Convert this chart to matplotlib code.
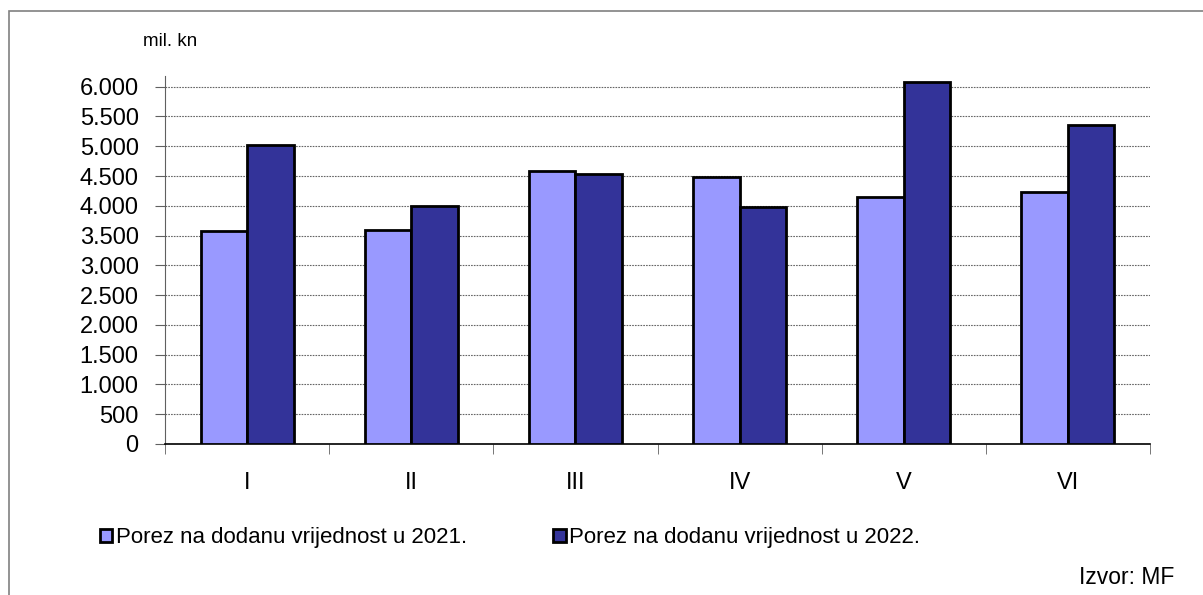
import matplotlib.pyplot as plt
from matplotlib.patches import Rectangle
from matplotlib.ticker import FuncFormatter

plt.rcParams['font.family'] = ['Liberation Sans', 'DejaVu Sans']

# data (mil. kn)
months = ["I", "II", "III", "IV", "V", "VI"]
pdv_2021 = [3570, 3586, 4580, 4480, 4150, 4228]
pdv_2022 = [5016, 3994, 4542, 3983, 6084, 5363]

label_2021 = "Porez na dodanu vrijednost u 2021."
label_2022 = "Porez na dodanu vrijednost u 2022."
color_2021 = "#9999FF"
color_2022 = "#333399"

W, H = 1203, 595
fig = plt.figure(figsize=(W / 100, H / 100), dpi=100)

# outer frame
fig.patches.append(Rectangle((9 / W, -0.1), 2, (H - 11) / H + 0.1,
                             transform=fig.transFigure, fill=False,
                             edgecolor="#808080", linewidth=1.2))

ax = fig.add_axes([165 / W, (H - 444) / H, (1150 - 165) / W, (444 - 76) / H])

x = list(range(len(months)))
w = 0.283
ax.bar([i - w / 2 for i in x], pdv_2021, width=w, color=color_2021,
       edgecolor="black", linewidth=2, label=label_2021, zorder=3)
ax.bar([i + w / 2 for i in x], pdv_2022, width=w, color=color_2022,
       edgecolor="black", linewidth=2, label=label_2022, zorder=3)

ax.set_xlim(-0.5, len(months) - 0.5)
ax.set_ylim(0, 6180)
ax.set_yticks(list(range(0, 6001, 500)))
ax.yaxis.set_major_formatter(FuncFormatter(lambda v, p: f"{int(v):,}".replace(",", ".")))

ax.set_xticks(x)
ax.set_xticklabels(months)
ax.set_xticks([i - 0.5 for i in range(len(months) + 1)], minor=True)
ax.tick_params(axis="x", which="major", length=0, pad=20, labelsize=17)
ax.tick_params(axis="x", which="minor", length=7, color="#606060", direction="out")
ax.tick_params(axis="y", length=7, color="#606060", pad=12, labelsize=17)

for s in ["top", "right"]:
    ax.spines[s].set_visible(False)
ax.spines["left"].set_color("#606060")
ax.spines["bottom"].set_color("black")
ax.spines["bottom"].set_linewidth(1.2)

ax.yaxis.grid(True, linestyle=(0, (1.5, 1)), color="#666666", linewidth=0.8, zorder=0)
ax.set_axisbelow(True)

fig.text(143 / W, (H - 42) / H, "mil. kn", fontsize=13.5, va="center", ha="left")
fig.text(1174 / W, (H - 578) / H, "Izvor: MF", fontsize=16.5, va="center", ha="right")

fig.legend(loc="center left", bbox_to_anchor=(100 / W, (H - 538) / H), ncol=2,
           frameon=False, fontsize=16, handlelength=0.55, handleheight=0.55,
           handletextpad=0.15, columnspacing=3.9, borderpad=0, borderaxespad=0)

fig.savefig("out.png", dpi=100)
